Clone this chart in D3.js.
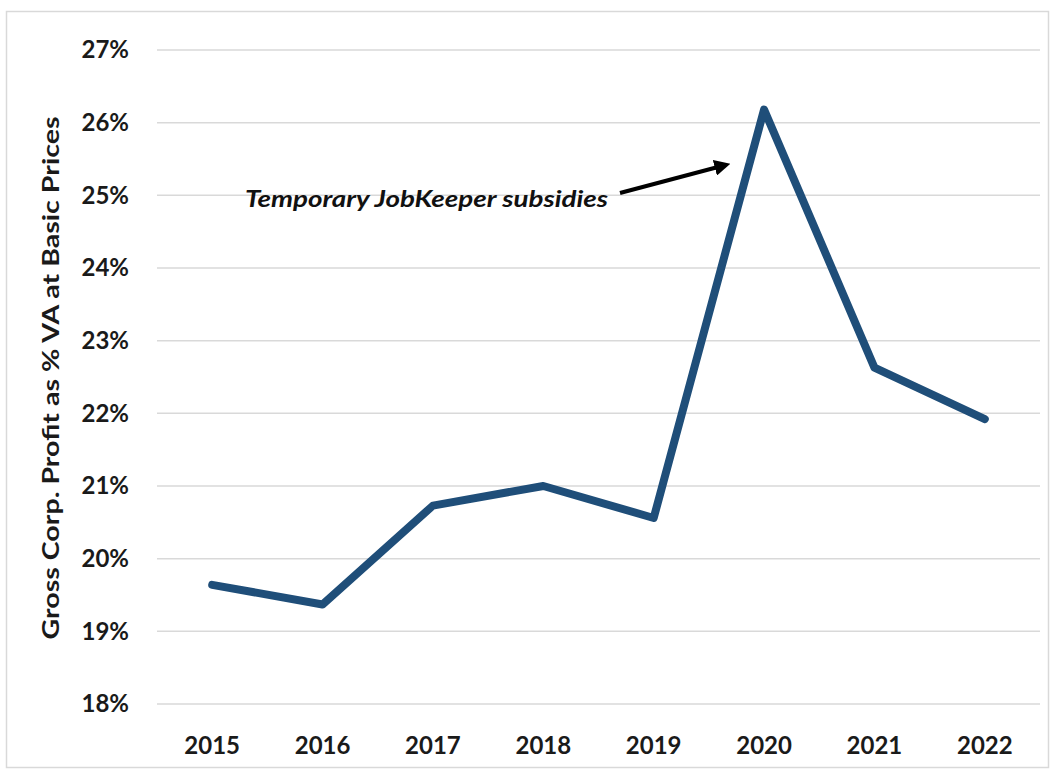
<!DOCTYPE html>
<html lang="en">
<head>
  <meta charset="utf-8">
  <title>Gross Corp. Profit as % VA at Basic Prices</title>
  <script src="https://d3js.org/d3.v7.min.js"></script>
  <style>
    body { margin: 0; background: #fff; font-family: Lato, "Open Sans", sans-serif; }
    svg { display: block; }
    .grid line { stroke: #d9d9d9; stroke-width: 1.5; }
    .tick-label { font-size: 24px; font-weight: 700; fill: #1a1a1a; }
  </style>
</head>
<body>
  <svg></svg>
  <script>
    // dades llegides del gràfic
    const years = ["2015", "2016", "2017", "2018", "2019", "2020", "2021", "2022"];
    const profitShare = [19.64, 19.37, 20.73, 21.0, 20.56, 26.18, 22.63, 21.92];
    const yTicks = [18, 19, 20, 21, 22, 23, 24, 25, 26, 27];
    const yTitle = "Gross Corp. Profit as % VA at Basic Prices";
    const note = "Temporary JobKeeper subsidies";

    const width = 1053, height = 771;
    const svg = d3.select("svg").attr("width", width).attr("height", height);

    // marc gris clar
    svg.append("rect")
      .attr("x", 6.5).attr("y", 11.5)
      .attr("width", 1042).attr("height", 756)
      .attr("fill", "none")
      .attr("stroke", "#d9d9d9")
      .attr("stroke-width", 1.5);

    const x = d3.scaleBand().domain(years).range([157, 1040]);
    const y = d3.scaleLinear().domain([18, 27]).range([704, 50]);

    // línies de la graella
    svg.append("g").attr("class", "grid")
      .selectAll("line")
      .data(yTicks)
      .join("line")
        .attr("x1", 157).attr("x2", 1040)
        .attr("y1", d => y(d)).attr("y2", d => y(d));

    // etiquetes eix Y
    svg.append("g")
      .selectAll("text")
      .data(yTicks)
      .join("text")
        .attr("class", "tick-label")
        .attr("x", 129)
        .attr("y", d => y(d))
        .attr("dy", "0.35em")
        .attr("text-anchor", "end")
        .text(d => d + "%");

    // etiquetes eix X
    svg.append("g")
      .selectAll("text")
      .data(years)
      .join("text")
        .attr("class", "tick-label")
        .attr("x", d => x(d) + x.bandwidth() / 2)
        .attr("y", 754)
        .attr("text-anchor", "middle")
        .text(d => d);

    // títol de l'eix Y
    svg.append("text")
      .attr("transform", "translate(59,378) rotate(-90)")
      .attr("text-anchor", "middle")
      .attr("font-size", 23)
      .attr("font-weight", 700)
      .attr("fill", "#1a1a1a")
      .attr("textLength", 523)
      .attr("lengthAdjust", "spacingAndGlyphs")
      .text(yTitle);

    // la sèrie
    const line = d3.line()
      .x((d, i) => x(years[i]) + x.bandwidth() / 2)
      .y(d => y(d));

    svg.append("path")
      .datum(profitShare)
      .attr("d", line)
      .attr("fill", "none")
      .attr("stroke", "#1f4e79")
      .attr("stroke-width", 8)
      .attr("stroke-linejoin", "round")
      .attr("stroke-linecap", "round");

    // anotació amb fletxa
    const defs = svg.append("defs");
    defs.append("marker")
        .attr("id", "arrow")
        .attr("viewBox", "0 -5 10 10")
        .attr("refX", 2)
        .attr("refY", 0)
        .attr("markerWidth", 4)
        .attr("markerHeight", 4)
        .attr("orient", "auto")
      .append("path")
        .attr("d", "M0,-5L10,0L0,5Z")
        .attr("fill", "#000");

    svg.append("line")
      .attr("x1", 620).attr("y1", 193)
      .attr("x2", 718).attr("y2", 167)
      .attr("stroke", "#000")
      .attr("stroke-width", 4)
      .attr("marker-end", "url(#arrow)");

    svg.append("text")
      .attr("x", 245)
      .attr("y", 207)
      .attr("font-size", 22)
      .attr("font-weight", 700)
      .attr("font-style", "italic")
      .attr("fill", "#111")
      .attr("textLength", 363)
      .attr("lengthAdjust", "spacingAndGlyphs")
      .text(note);
  </script>
</body>
</html>
